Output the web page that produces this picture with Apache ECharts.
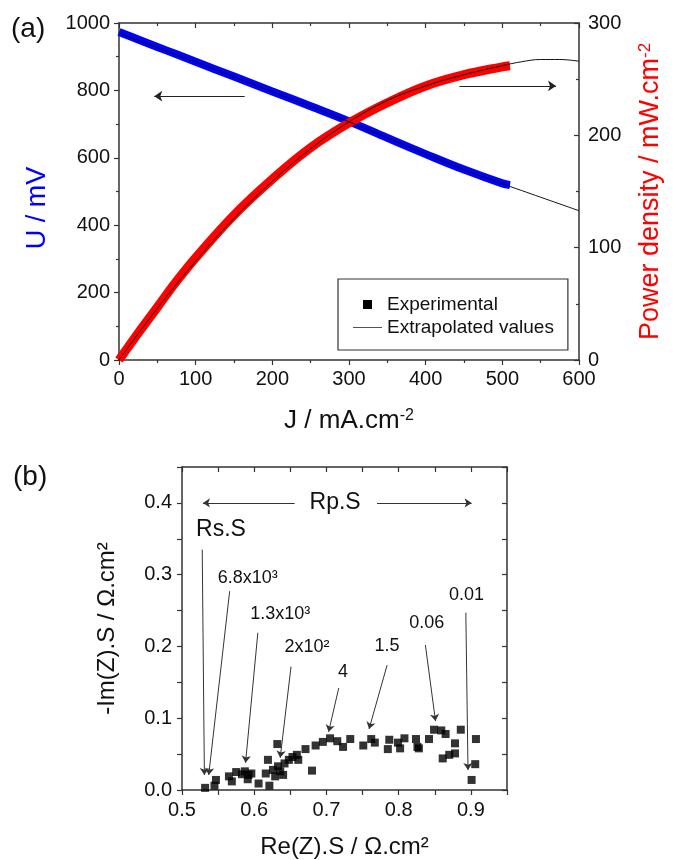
<head> </head>

<body style="margin: 0">
  <div id="main" style="width: 675px; height: 860px"></div>
  <script src="https://cdn.jsdelivr.net/npm/echarts@6/dist/echarts.min.js"></script>
  <script>
    // (a) 电池极化曲线
    var jExp = [0, 25, 50, 75, 100, 150, 200, 250, 300, 350, 400, 450, 500, 510];
    var uExp = [973, 951, 929, 907, 885, 841, 797, 753, 708, 659, 611, 565, 524, 519];
    var pExp = [0, 24, 47, 70, 91, 129, 161, 189, 211, 229, 244, 254, 261, 262];
    var jFit = [0, 50, 100, 150, 200, 250, 300, 350, 400, 450, 500, 525, 550, 575, 600];
    var uFit = [970, 927, 884, 840, 796, 752, 707, 659, 611, 565, 523, 503, 483, 463, 443];
    var pFit = [0, 46, 88, 126, 159, 188, 212, 231, 244, 254, 262, 265.5, 267.5, 267.5, 266];

    // (b) 阻抗谱 Nyquist
    var reZ = [0.532, 0.545, 0.547, 0.565, 0.569, 0.575, 0.583, 0.587, 0.592, 0.596,
      0.591, 0.606, 0.619, 0.616, 0.621, 0.626, 0.629, 0.632, 0.633, 0.636,
      0.640, 0.642, 0.648, 0.653, 0.659, 0.661, 0.671, 0.680, 0.685, 0.695,
      0.705, 0.715, 0.723, 0.733, 0.751, 0.762, 0.767, 0.785, 0.787, 0.799,
      0.802, 0.808, 0.824, 0.826, 0.828, 0.842, 0.849, 0.859, 0.865, 0.861,
      0.870, 0.878, 0.878, 0.886, 0.901, 0.906, 0.907];
    var imZ = [0.003, 0.006, 0.014, 0.019, 0.012, 0.025, 0.022, 0.026, 0.021, 0.023,
      0.015, 0.009, 0.042, 0.023, 0.006, 0.028, 0.019, 0.064, 0.033, 0.026,
      0.021, 0.037, 0.042, 0.046, 0.049, 0.042, 0.057, 0.027, 0.062, 0.067,
      0.072, 0.068, 0.060, 0.071, 0.062, 0.071, 0.066, 0.057, 0.070, 0.066,
      0.058, 0.072, 0.071, 0.060, 0.058, 0.071, 0.084, 0.083, 0.078, 0.044,
      0.049, 0.051, 0.065, 0.084, 0.014, 0.036, 0.071];

    // 频率标注: [文字x, 文字y, 文字, 线起点x, 线起点y, 箭头x, 箭头y]
    var freqNotes = [
      [0.554, 0.363, "Rs.S", 0.528, 0.335, 0.531, 0.021],
      [0.591, 0.296, "6.8x10³", 0.566, 0.277, 0.537, 0.021],
      [0.636, 0.245, "1.3x10³", 0.605, 0.219, 0.588, 0.038],
      [0.673, 0.199, "2x10²", 0.651, 0.172, 0.636, 0.045],
      [0.723, 0.165, "4", 0.717, 0.142, 0.703, 0.081],
      [0.784, 0.201, "1.5", 0.784, 0.174, 0.759, 0.085],
      [0.839, 0.233, "0.06", 0.837, 0.202, 0.851, 0.096],
      [0.894, 0.272, "0.01", 0.893, 0.247, 0.896, 0.028],
    ];

    var font = "Liberation Sans, Arial, sans-serif";
    var axisCol = "#333";

    function zip(a, b) {
      return a.map((e, i) => [e, b[i]]);
    }

    function baseAxis(extra) {
      return Object.assign(
        {
          type: "value",
          splitLine: { show: false },
          axisLine: { show: true, onZero: false, lineStyle: { color: axisCol, width: 1.5 } },
          axisTick: { show: true, length: 5, lineStyle: { color: axisCol, width: 1.2 } },
          minorTick: { show: true, splitNumber: 2, length: 3, lineStyle: { color: axisCol, width: 1.2 } },
          axisLabel: { color: "#111", fontFamily: font, fontSize: 20, margin: 9, formatter: (v) => String(v) },
          nameTextStyle: { fontFamily: font },
        },
        extra
      );
    }

    function mirror(extra) {
      return baseAxis(
        Object.assign(
          {
            axisLabel: { show: false },
            axisTick: { show: true, inside: true, length: 5, lineStyle: { color: axisCol, width: 1.2 } },
          },
          extra
        )
      );
    }

    // (b) 只显示0.1整倍数的刻度标签
    function tenth(v) {
      return Math.round(v * 100) % 10 === 0 ? v.toFixed(1) : "";
    }
    var bTicks = {
      interval: 0.05,
      minorTick: { show: false },
      axisTick: { show: true, length: 5, lineStyle: { color: axisCol, width: 1.2 } },
    };
    var insideTick = { show: true, inside: true, length: 5, lineStyle: { color: axisCol, width: 1.2 } };

    var myChart = echarts.init(document.getElementById("main"));
    const option = {
      animation: false,
      title: [
        { text: "(a)", left: 6, top: 10, textStyle: { fontFamily: font, fontSize: 28, fontWeight: "normal", color: "#111" } },
        { text: "(b)", left: 8, top: 458, textStyle: { fontFamily: font, fontSize: 28, fontWeight: "normal", color: "#111" } },
      ],
      legend: {
        left: 338,
        top: 279,
        orient: "vertical",
        padding: [16, 14, 13, 15],
        itemGap: 4,
        itemWidth: 29,
        itemHeight: 9,
        borderColor: axisCol,
        borderWidth: 1.2,
        textStyle: { fontFamily: font, fontSize: 19, color: "#111" },
        selectedMode: false,
        data: [
          { name: "Experimental", icon: "path://M0,0H10V10H0Z", itemStyle: { color: "#000" } },
          { name: "Extrapolated values", icon: "path://M0,0H60V1.4H0Z", itemStyle: { color: "#000" } },
        ],
      },
      grid: [
        { left: 119, top: 23, width: 460, height: 337 },
        { left: 182, top: 467, width: 325, height: 323 },
      ],
      xAxis: [
        baseAxis({
          gridIndex: 0, min: 0, max: 600, interval: 100, position: "bottom",
          name: "{n|J / mA.cm}{s|-2}", nameLocation: "middle", nameGap: 48,
          nameTextStyle: { rich: { n: { fontFamily: font, fontSize: 26, color: "#111" }, s: { fontFamily: font, fontSize: 16, color: "#111", verticalAlign: "top" } } },
        }),
        mirror({ gridIndex: 0, min: 0, max: 600, interval: 100, position: "top" }),
        baseAxis(Object.assign({
          gridIndex: 1, min: 0.5, max: 0.95, position: "bottom",
          axisLabel: { color: "#111", fontFamily: font, fontSize: 20, margin: 10, formatter: tenth },
          name: "Re(Z).S / Ω.cm²", nameLocation: "middle", nameGap: 45,
          nameTextStyle: { fontFamily: font, fontSize: 24, color: "#111" },
        }, bTicks)),
        mirror(Object.assign({ gridIndex: 1, min: 0.5, max: 0.95, position: "top" }, bTicks, { axisTick: insideTick })),
      ],
      yAxis: [
        baseAxis({
          gridIndex: 0, min: 0, max: 1000, interval: 200, position: "left",
          name: "U / mV", nameLocation: "middle", nameGap: 68,
          nameTextStyle: { fontFamily: font, fontSize: 27, color: "#0000ff", padding: [0, 33, 0, 0] },
        }),
        baseAxis({
          gridIndex: 0, min: 0, max: 300, interval: 100, position: "right",
          axisTick: insideTick,
          name: "{n|Power density / mW.cm}{s|-2}", nameLocation: "middle", nameGap: 58,
          nameTextStyle: { rich: { n: { fontFamily: font, fontSize: 27, color: "#ff0000" }, s: { fontFamily: font, fontSize: 17, color: "#ff0000", verticalAlign: "top" } } },
        }),
        baseAxis(Object.assign({
          gridIndex: 1, min: 0, max: 0.45, position: "left",
          axisLabel: { color: "#111", fontFamily: font, fontSize: 20, margin: 10, formatter: tenth },
          name: "-Im(Z).S / Ω.cm²", nameLocation: "middle", nameGap: 63,
          nameTextStyle: { fontFamily: font, fontSize: 24, color: "#111" },
        }, bTicks)),
        mirror(Object.assign({ gridIndex: 1, min: 0, max: 0.45, position: "right" }, bTicks, { axisTick: insideTick })),
      ],
      series: [
        {
          name: "Experimental", type: "line", xAxisIndex: 0, yAxisIndex: 0,
          data: zip(jExp, uExp), smooth: 0.4, symbol: "none",
          color: "#0000ff", lineStyle: { width: 8, color: "#0000ff" },
        },
        {
          name: "Experimental", type: "line", xAxisIndex: 0, yAxisIndex: 1,
          data: zip(jExp, pExp), smooth: 0.4, symbol: "none",
          color: "#ff0000", lineStyle: { width: 9, color: "#ff0000" },
        },
        {
          name: "Extrapolated values", type: "line", xAxisIndex: 0, yAxisIndex: 0,
          data: zip(jFit, uFit), smooth: 0.4, symbol: "none",
          color: "#000", lineStyle: { width: 1, color: "#111" },
          markLine: {
            silent: true, symbol: ["none", "arrow"], symbolSize: 8,
            label: { show: false },
            lineStyle: { type: "solid", color: "#222", width: 1 },
            data: [[{ coord: [164, 783] }, { coord: [46, 783] }]],
          },
        },
        {
          name: "Extrapolated values", type: "line", xAxisIndex: 0, yAxisIndex: 1,
          data: zip(jFit, pFit), smooth: 0.4, symbol: "none",
          color: "#000", lineStyle: { width: 1, color: "#111" },
          markLine: {
            silent: true, symbol: ["none", "arrow"], symbolSize: 8,
            label: { show: false },
            lineStyle: { type: "solid", color: "#222", width: 1 },
            data: [[{ coord: [444, 244] }, { coord: [570, 244] }]],
          },
        },
        {
          name: "EIS", type: "scatter", xAxisIndex: 2, yAxisIndex: 2,
          data: zip(reZ, imZ), symbol: "rect", symbolSize: 8,
          itemStyle: { color: "#000" },
          markLine: {
            silent: true, symbol: ["none", "arrow"], symbolSize: 7,
            label: { show: false },
            lineStyle: { type: "solid", color: "#333", width: 1 },
            data: freqNotes
              .map((e) => [{ coord: [e[3], e[4]] }, { coord: [e[5], e[6]] }])
              .concat([
                [{ coord: [0.656, 0.4] }, { coord: [0.529, 0.4] }],
                [{ coord: [0.770, 0.4] }, { coord: [0.901, 0.4] }],
              ]),
          },
          markPoint: {
            silent: true, symbol: "circle", symbolSize: 1,
            itemStyle: { color: "transparent" },
            label: { show: true, position: "inside", fontFamily: font, fontSize: 18, color: "#111" },
            data: freqNotes
              .map((e, i) => ({
                coord: [e[0], e[1]],
                label: { formatter: e[2], fontSize: i === 0 ? 23 : 18 },
              }))
              .concat([{ coord: [0.712, 0.4], label: { formatter: "Rp.S", fontSize: 23 } }]),
          },
        },
      ],
    };
    myChart.setOption(option);
  </script>
</body>
